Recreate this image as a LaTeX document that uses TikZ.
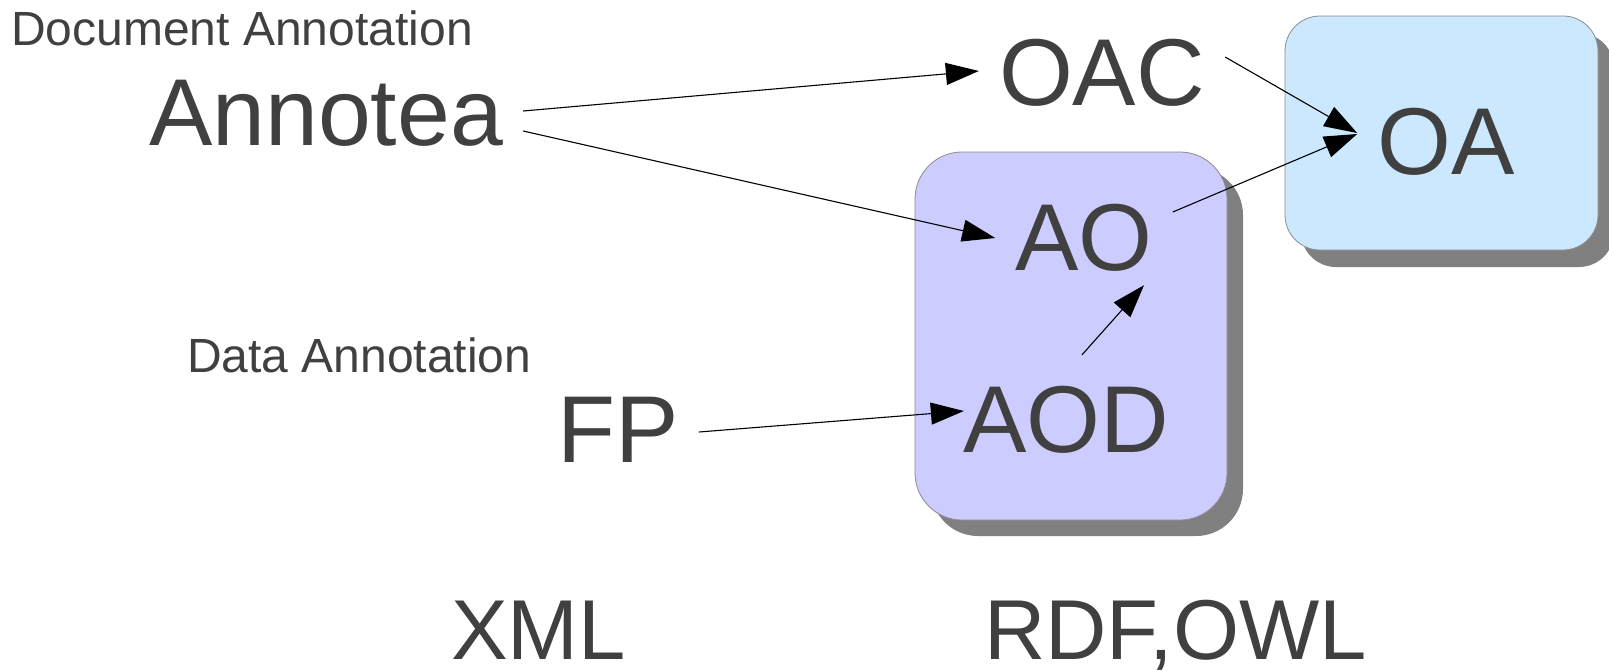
\documentclass[tikz,border=0pt]{standalone}
\usepackage{fontspec}
\setmainfont{Liberation Sans}
\usetikzlibrary{arrows.meta,calc}
\definecolor{txtgray}{RGB}{64,64,64}
\definecolor{purplefill}{RGB}{204,204,255}
\definecolor{bluefill}{RGB}{204,232,255}
\definecolor{shadowgray}{RGB}{128,128,128}
\definecolor{boxborder}{RGB}{140,140,140}
\begin{document}
\begin{tikzpicture}[x=1pt,y=-1pt,
  big/.style={font=\fontsize{95}{95}\selectfont, text=txtgray, text height=68pt, text depth=0pt, inner xsep=20pt, inner ysep=0pt},
  small/.style={font=\fontsize{48}{48}\selectfont, text=txtgray, inner sep=0pt, anchor=base west},
  bottomlbl/.style={font=\fontsize{85}{85}\selectfont, text=txtgray, inner sep=0pt, anchor=base west},
  arr/.style={draw=black, line width=1.1pt, -{Triangle[length=33pt,width=22pt]}},
  shadowshape/.style={fill=shadowgray},
  boxshape/.style={draw=boxborder, line width=0.8pt}
  ]
\useasboundingbox (0,0) rectangle (1609,670);
% boxes
\fill[shadowshape, rounded corners=47pt] (931,168) rectangle (1243,536);
\filldraw[boxshape, fill=purplefill, rounded corners=47pt] (915,152) rectangle (1227,520);
\fill[shadowshape, rounded corners=35pt] (1301,33) rectangle (1614,267);
\filldraw[boxshape, fill=bluefill, rounded corners=35pt] (1285,16) rectangle (1598,250);
% texts
\node[small] (docann) at (11,45) {Document Annotation};
\node[big] (annotea) at (326,111) {Annotea};
\node[big] (oac) at (1102,71) {OAC};
\node[big] (oa) at (1446,140) {OA};
\node[big] (ao) at (1084,236) {AO};
\node[small] (dataann) at (187,372) {Data Annotation};
\node[big] (aod) at (1066,418) {AOD};
\node[big] (fp) at (618,428) {FP};
\node[bottomlbl] (xml) at (451,659) {XML};
\node[bottomlbl] (rdf) at (984,659) {RDF,OWL};
% connectors
\draw[arr] (annotea.east) -- (oac.west);
\draw[arr] ([yshift=-20pt]annotea.east) -- ([yshift=-2pt]ao.west);
\draw[arr] ([yshift=14pt]oac.east) -- ([yshift=7pt]oa.west);
\draw[arr] ([yshift=24pt]ao.east) -- ([yshift=6pt]oa.west);
\draw[arr] ([shift={(16pt,29pt)}]aod.north) -- ([shift={(60pt,-15pt)}]ao.south);
\draw[arr] ([yshift=-4pt]fp.east) -- ([shift={(21pt,7pt)}]aod.west);
\end{tikzpicture}
\end{document}
